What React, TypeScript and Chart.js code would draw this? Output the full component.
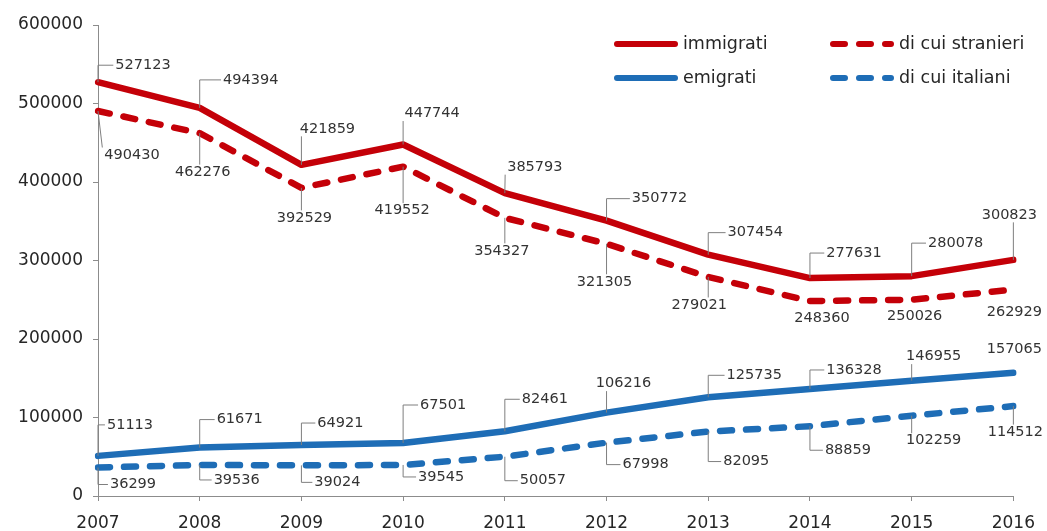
import React, { useEffect, useRef } from "react";
import { Chart, registerables } from "chart.js";

Chart.register(...registerables);

const years = ["2007", "2008", "2009", "2010", "2011", "2012", "2013", "2014", "2015", "2016"];
const immigrati = [527123, 494394, 421859, 447744, 385793, 350772, 307454, 277631, 280078, 300823];
const stranieri = [490430, 462276, 392529, 419552, 354327, 321305, 279021, 248360, 250026, 262929];
const emigrati = [51113, 61671, 64921, 67501, 82461, 106216, 125735, 136328, 146955, 157065];
const italiani = [36299, 39536, 39024, 39545, 50057, 67998, 82095, 88859, 102259, 114512];
const yTicks = [0, 100000, 200000, 300000, 400000, 500000, 600000];

// label placement (offset of the label centre from its point, in px)
const immigratiLabelOffsets = [[45, -17], [51, -28], [26, -36], [29, -31], [30, -26], [53, -22], [47, -22], [44, -25], [44, -33], [-4, -45]];
const stranieriLabelOffsets = [[34, 44], [3, 39], [3, 30], [-1, 44], [-3, 33], [-2, 38], [-9, 28], [12, 17], [3, 17], [1, 23]];
const emigratiLabelOffsets = [[32, -31], [40, -28], [39, -22], [40, -38], [40, -32], [17, -29], [46, -22], [44, -19], [22, -24], [1, -23]];
const italianiLabelOffsets = [[35, 17], [37, 15], [36, 17], [38, 12], [38, 24], [39, 22], [38, 30], [38, 24], [22, 25], [2, 26]];

const RED = "#C40008";
const BLUE = "#1E6DB6";
const DASH = [12, 14];
const FONT = '"DejaVu Sans", sans-serif';

const labelOffsets = [immigratiLabelOffsets, stranieriLabelOffsets, emigratiLabelOffsets, italianiLabelOffsets];

const leaderLabels = {
  id: "leaderLabels",
  afterDatasetsDraw(chart: any) {
    const ctx = chart.ctx;
    ctx.save();
    ctx.font = `14.5px ${FONT}`;
    ctx.textAlign = "center";
    ctx.textBaseline = "middle";
    chart.data.datasets.forEach((ds: any, i: number) => {
      const meta = chart.getDatasetMeta(i);
      const offs = labelOffsets[i];
      meta.data.forEach((pt: any, j: number) => {
        const [dx, dy] = offs[j];
        const text = String(ds.data[j]);
        const w = ctx.measureText(text).width;
        const h = 11;
        const cx = pt.x + dx;
        const cy = pt.y + dy;
        const left = cx - w / 2 - 2;
        const right = cx + w / 2 + 2;
        const top = cy - h / 2 - 2;
        const bottom = cy + h / 2 + 2;
        ctx.strokeStyle = "#7f7f7f";
        ctx.lineWidth = 1;
        if (left - pt.x >= 6) {
          ctx.beginPath();
          ctx.moveTo(pt.x, pt.y);
          ctx.lineTo(pt.x, cy);
          ctx.lineTo(left, cy);
          ctx.stroke();
        } else {
          const nx = Math.min(Math.max(pt.x, left), right);
          const ny = Math.min(Math.max(pt.y, top), bottom);
          const d = Math.hypot(nx - pt.x, ny - pt.y);
          if (d > 16) {
            ctx.beginPath();
            ctx.moveTo(pt.x, pt.y);
            ctx.lineTo(nx, ny);
            ctx.stroke();
          }
        }
        ctx.fillStyle = "#333333";
        ctx.fillText(text, cx, cy);
      });
    });
    ctx.restore();
  },
};

const customLegend = {
  id: "customLegend",
  afterDraw(chart: any) {
    const ctx = chart.ctx;
    const slots = [
      { x: 617, y: 44 },
      { x: 833, y: 44 },
      { x: 617, y: 78 },
      { x: 833, y: 78 },
    ];
    ctx.save();
    chart.data.datasets.forEach((ds: any, i: number) => {
      const s = slots[i];
      ctx.strokeStyle = ds.borderColor;
      ctx.lineWidth = 6;
      ctx.lineCap = "round";
      ctx.setLineDash(ds.borderDash || []);
      ctx.beginPath();
      ctx.moveTo(s.x, s.y);
      ctx.lineTo(s.x + 58, s.y);
      ctx.stroke();
      ctx.setLineDash([]);
      ctx.fillStyle = "#262626";
      ctx.font = `17.5px ${FONT}`;
      ctx.textAlign = "left";
      ctx.textBaseline = "middle";
      ctx.fillText(ds.label, s.x + 66, s.y);
    });
    ctx.restore();
  },
};

export default function App() {
  const ref = useRef<HTMLCanvasElement | null>(null);
  useEffect(() => {
    if (!ref.current) return;
    const chart = new Chart(ref.current, {
      type: "line",
      data: {
        labels: years,
        datasets: [
          { label: "immigrati", data: immigrati, borderColor: RED, borderWidth: 6.5, pointRadius: 0, borderCapStyle: "round", borderJoinStyle: "round", tension: 0 },
          { label: "di cui stranieri", data: stranieri, borderColor: RED, borderWidth: 6.5, pointRadius: 0, borderDash: DASH, borderCapStyle: "round", borderJoinStyle: "round", tension: 0 },
          { label: "emigrati", data: emigrati, borderColor: BLUE, borderWidth: 6.5, pointRadius: 0, borderCapStyle: "round", borderJoinStyle: "round", tension: 0 },
          { label: "di cui italiani", data: italiani, borderColor: BLUE, borderWidth: 6.5, pointRadius: 0, borderDash: DASH, borderCapStyle: "round", borderJoinStyle: "round", tension: 0 },
        ],
      },
      options: {
        responsive: false,
        animation: false,
        layout: { padding: { top: 25, right: 33, left: 0, bottom: 0 } },
        plugins: { legend: { display: false }, tooltip: { enabled: false } },
        scales: {
          x: {
            type: "category",
            offset: false,
            grid: { display: true, drawOnChartArea: false, drawTicks: true, tickLength: 5, color: "#8c8c8c" },
            border: { display: true, color: "#8c8c8c" },
            ticks: { autoSkip: false, maxRotation: 0, padding: 12, color: "#262626", font: { family: FONT, size: 17 } },
            afterFit(scale: any) { scale.height = 35; },
          },
          y: {
            min: 0,
            max: 600000,
            afterBuildTicks(scale: any) { scale.ticks = yTicks.map((v) => ({ value: v })); },
            grid: { display: true, drawOnChartArea: false, drawTicks: true, tickLength: 5, color: "#8c8c8c" },
            border: { display: true, color: "#8c8c8c" },
            ticks: { padding: 10, color: "#262626", font: { family: FONT, size: 17 }, callback: (v: any) => String(v) },
            afterFit(scale: any) { scale.width = 98; },
          },
        },
      },
      plugins: [leaderLabels, customLegend],
    } as any);
    return () => chart.destroy();
  }, []);
  return (
    <div style={{ position: "absolute", left: 0, top: 0, width: 1047, height: 531, background: "#fff" }}>
      <canvas ref={ref} width={1047} height={531} />
    </div>
  );
}
